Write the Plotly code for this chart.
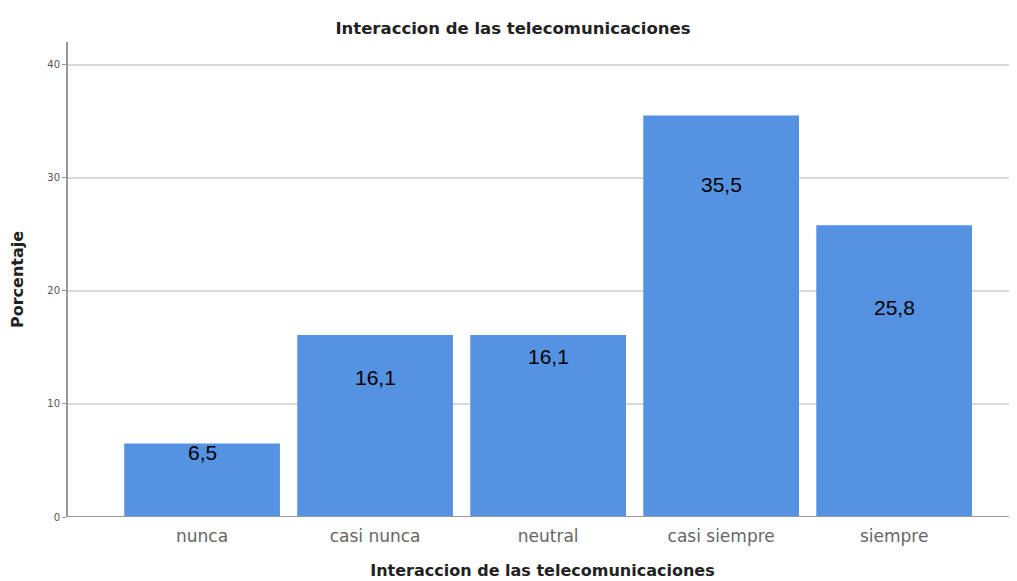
import plotly.graph_objects as go

categories = ["nunca", "casi nunca", "neutral", "casi siempre", "siempre"]
percentages = [6.5, 16.1, 16.1, 35.5, 25.8]
value_labels = ["6,5", "16,1", "16,1", "35,5", "25,8"]
# where the value label sits inside each bar (data units)
label_y = [5.7, 12.3, 14.2, 29.4, 18.5]

BAR_COLOR = "#5592e1"
FONT = "Liberation Sans, Arial, sans-serif"
WIDE = "DejaVu Sans, Verdana, sans-serif"

fig = go.Figure()
fig.add_bar(x=categories, y=percentages, marker_color=BAR_COLOR,
            marker_line_width=0, hoverinfo="x+y")

for cat, lab, ly in zip(categories, value_labels, label_y):
    fig.add_annotation(x=cat, y=ly, text=lab, showarrow=False,
                       font=dict(family=FONT, size=21, color="#000000"))

fig.update_layout(
    width=1017, height=581,
    margin=dict(l=60, r=8, t=34, b=72),
    paper_bgcolor="white", plot_bgcolor="white",
    bargap=0.1, showlegend=False,
    font=dict(family=WIDE, color="#333333"),
    title=dict(text="<b>Interaccion de las telecomunicaciones</b>",
               x=505 / 1017, xanchor="center", xref="container",
               y=1 - 20 / 581, yanchor="middle", yref="container",
               font=dict(family=WIDE, size=16.5, color="#222222")),
)
fig.update_xaxes(
    range=[-0.775, 4.71], showgrid=False, zeroline=False,
    showline=False, ticks="", automargin=False, ticklabelstandoff=7,
    tickfont=dict(family=WIDE, size=17, color="#666666"),
    title=dict(text="<b>Interaccion de las telecomunicaciones</b>",
               font=dict(family=WIDE, size=16, color="#222222"), standoff=19),
)
fig.update_yaxes(
    range=[0, 42], tickvals=[0, 10, 20, 30, 40], showgrid=True,
    gridcolor="#d9d9d9", gridwidth=1.5, zeroline=False,
    showline=True, linecolor="#999999", linewidth=2, automargin=False,
    ticks="outside", ticklen=4, tickcolor="#999999",
    tickfont=dict(family=WIDE, size=10, color="#555555"),
    title=dict(text="<b>Porcentaje</b>",
               font=dict(family=WIDE, size=16, color="#222222"), standoff=26),
)
# baseline along zero
fig.add_shape(type="line", xref="paper", yref="y", x0=0, x1=1, y0=0, y1=0,
              line=dict(color="#999999", width=2))

fig.write_html("out.html")
